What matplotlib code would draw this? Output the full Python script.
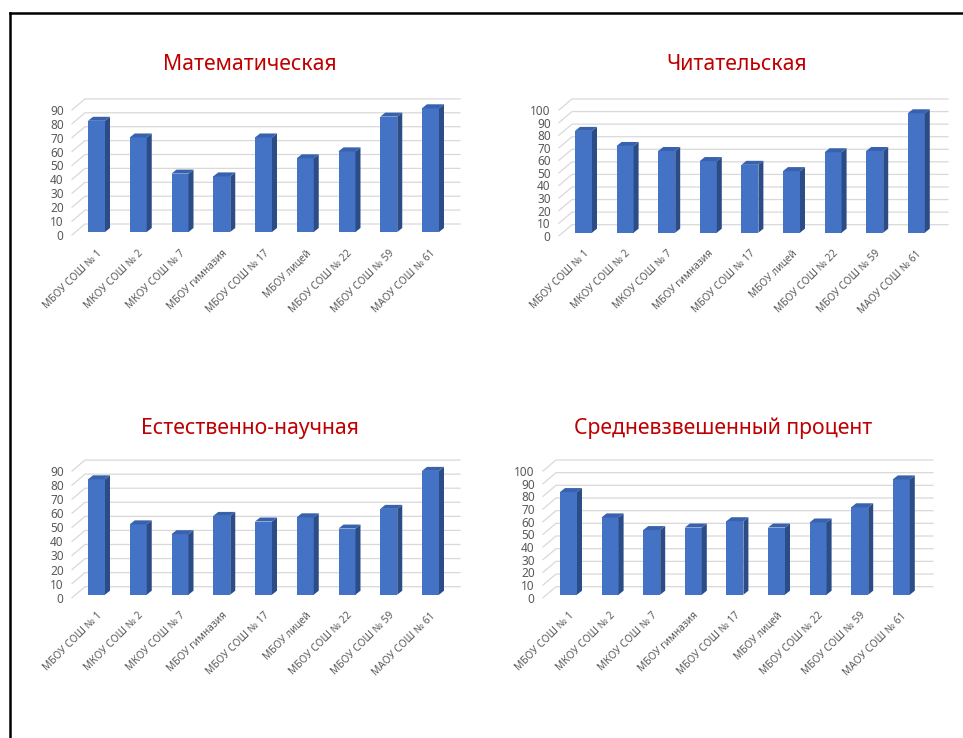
import numpy as np
import matplotlib.pyplot as plt
from matplotlib.patches import Polygon
from matplotlib.lines import Line2D

plt.rcParams['font.family'] = ['Noto Sans', 'DejaVu Sans']

schools = ['МБОУ СОШ № 1', 'МКОУ СОШ № 2', 'МКОУ СОШ № 7', 'МБОУ гимназия',
           'МБОУ СОШ № 17', 'МБОУ лицей', 'МБОУ СОШ № 22', 'МБОУ СОШ № 59',
           'МАОУ СОШ № 61']

titles = ['Математическая', 'Читательская', 'Естественно-научная',
          'Средневзвешенный процент']

math_vals = [80, 68, 42, 40, 68, 53, 58, 83, 89]
read_vals = [81, 69, 65, 57, 54, 49, 64, 65, 95]
sci_vals = [82, 50, 43, 56, 52, 55, 47, 61, 88]
avg_vals = [81, 61, 51, 53, 58, 53, 57, 69, 91]
all_vals = [math_vals, read_vals, sci_vals, avg_vals]
y_max = [90, 100, 90, 100]

W, H = 963, 738
fig = plt.figure(figsize=(W / 100, H / 100), dpi=100)

# pixel layout of each chart: left, right, y of zero, px per unit, first bar centre, bar step, title x, title y
layout = [
    (72, 447, 235.0, 1.39, 96.5, 41.75, 250, 65),
    (559, 935, 235.7, 1.257, 583.5, 41.6, 737, 65),
    (72, 447, 597.7, 1.407, 96.5, 41.75, 250, 428),
    (543, 920, 597.7, 1.267, 568.5, 41.6, 723, 428),
]

grid_c = '#d9d9d9'
front_c = '#4472c4'
side_c = '#2c4c87'
top_c = '#3862ad'
text_c = '#595959'

for k in range(4):
    left, right, y0, sc, c0, s, tx, ty = layout[k]
    vals = all_vals[k]
    ym = y_max[k]
    top = y0 - ym * sc
    ax = fig.add_axes([left / W, 1 - y0 / H, (right - left) / W, (y0 - top) / H])
    ax.patch.set_alpha(0)
    fdx = 3.0  # bar front offset from front plane, px
    fdy = 3.0
    xl = (left - (c0 - fdx)) / s
    xr = (right - (c0 - fdx)) / s
    ax.set_xlim(xl, xr)
    ax.set_ylim(0, ym)

    # back wall grid with slanted floor-side segments
    bx = 13 / s
    by = 11 / sc
    for v in range(0, ym + 1, 10):
        ax.plot([xl, xl + bx, xr + bx], [v, v + by, v + by], color=grid_c,
                lw=0.9, clip_on=False, zorder=1)

    fx = fdx / s
    fy = fdy / sc
    w = 17 / s
    dx = 5 / s
    dy = 4 / sc
    x = np.arange(len(vals))
    bars = ax.bar(x + fx, vals, width=w, bottom=fy, color=front_c,
                  zorder=3, clip_on=False)
    for b in bars:
        bx0, by0 = b.get_x(), b.get_y()
        bw, bh = b.get_width(), b.get_height()
        side = Polygon([(bx0 + bw, by0), (bx0 + bw + dx, by0 + dy),
                        (bx0 + bw + dx, by0 + bh + dy), (bx0 + bw, by0 + bh)],
                       closed=True, fc=side_c, ec='none', zorder=3, clip_on=False)
        topp = Polygon([(bx0, by0 + bh), (bx0 + dx, by0 + bh + dy),
                        (bx0 + bw + dx, by0 + bh + dy), (bx0 + bw, by0 + bh)],
                       closed=True, fc=top_c, ec='none', zorder=3, clip_on=False)
        ax.add_patch(side)
        ax.add_patch(topp)

    ax.set_yticks(range(0, ym + 1, 10))
    ax.set_xticks(x + fx, schools, rotation=45, ha='right', va='top',
                  rotation_mode='anchor')
    ax.tick_params(axis='y', length=0, pad=6, labelsize=8.5, labelcolor=text_c)
    ax.tick_params(axis='x', length=0, pad=9, labelsize=7.3, labelcolor=text_c)
    for sp in ax.spines.values():
        sp.set_visible(False)

    fig.text(tx / W, 1 - ty / H, titles[k], color='#c00000', fontsize=15.3,
             ha='center', va='center')

# frame around the slide
fig.add_artist(Line2D([9.5 / W, 9.5 / W], [0, 1 - 12.5 / H], color='black', lw=1.8))
fig.add_artist(Line2D([9.5 / W, 1], [1 - 12.5 / H, 1 - 12.5 / H], color='black', lw=1.8))

fig.savefig('out.png', dpi=100)
